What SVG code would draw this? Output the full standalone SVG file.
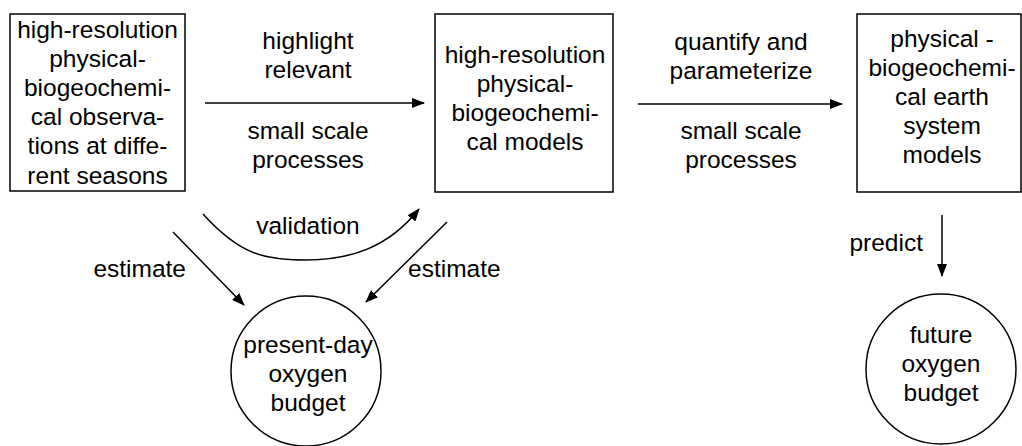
<svg xmlns="http://www.w3.org/2000/svg" width="1022" height="446" viewBox="0 0 1022 446">
<style>
.shape{fill:#ffffff;stroke:#000000;stroke-width:1.5}
.t{font-family:"Liberation Sans",Arial,Helvetica,sans-serif;font-size:24.5px;fill:#000000;text-anchor:middle}
.e{text-anchor:end}
.s{text-anchor:start}
.edge{fill:none;stroke:#000000;stroke-width:1.5}
</style>
<defs>
<marker id="arr" viewBox="0 0 13 10" refX="12" refY="5" markerWidth="13" markerHeight="10" markerUnits="userSpaceOnUse" orient="auto">
<path d="M0,0 L13,5 L0,10 z" fill="#000000"/>
</marker>
</defs>
<rect width="1022" height="446" fill="#ffffff"/>
<g id="obs">
<rect class="shape" x="10" y="14" width="175" height="177"/>
<text class="t" x="97.5" y="37.5">high-resolution<tspan x="97.5" dy="29.2">physical-</tspan><tspan x="97.5" dy="29.2">biogeochemi-</tspan><tspan x="97.5" dy="29.2">cal observa-</tspan><tspan x="97.5" dy="29.2">tions at diffe-</tspan><tspan x="97.5" dy="29.2">rent seasons</tspan></text>
</g>
<g id="models">
<rect class="shape" x="435" y="14" width="178" height="178"/>
<text class="t" x="525" y="63">high-resolution<tspan x="525" dy="29">physical-</tspan><tspan x="525" dy="29">biogeochemi-</tspan><tspan x="525" dy="29">cal models</tspan></text>
</g>
<g id="esm">
<rect class="shape" x="857" y="14" width="164" height="178"/>
<text class="t" x="942" y="47">physical -<tspan x="942" dy="29">biogeochemi-</tspan><tspan x="942" dy="29">cal earth</tspan><tspan x="942" dy="29">system</tspan><tspan x="942" dy="29">models</tspan></text>
</g>
<g id="present">
<circle class="shape" cx="306" cy="371" r="75"/>
<text class="t" x="308" y="353">present-day<tspan x="308" dy="29">oxygen</tspan><tspan x="308" dy="29">budget</tspan></text>
</g>
<g id="future">
<circle class="shape" cx="941" cy="369" r="75"/>
<text class="t" x="941" y="343">future<tspan x="941" dy="29">oxygen</tspan><tspan x="941" dy="29">budget</tspan></text>
</g>
<g id="connectors">
<path class="edge" d="M205,103 L424,103" marker-end="url(#arr)"/>
<path class="edge" d="M638,104 L842,104" marker-end="url(#arr)"/>
<path class="edge" d="M203,214 C240,255 265,260 305,260 C350,260 388,248 419,209" marker-end="url(#arr)"/>
<path class="edge" d="M173,232 L244,305" marker-end="url(#arr)"/>
<path class="edge" d="M447,222 L366,302" marker-end="url(#arr)"/>
<path class="edge" d="M942,215 L942,276" marker-end="url(#arr)"/>
<text class="t" x="308" y="48.5">highlight<tspan x="308" dy="29">relevant</tspan></text>
<text class="t" x="308" y="138.5">small scale<tspan x="308" dy="29">processes</tspan></text>
<text class="t" x="741" y="50">quantify and<tspan x="741" dy="29">parameterize</tspan></text>
<text class="t" x="741" y="139">small scale<tspan x="741" dy="29">processes</tspan></text>
<text class="t" x="308" y="234">validation</text>
<text class="t e" x="186" y="277">estimate</text>
<text class="t s" x="408" y="277">estimate</text>
<text class="t e" x="923" y="251">predict</text>
</g>
</svg>
